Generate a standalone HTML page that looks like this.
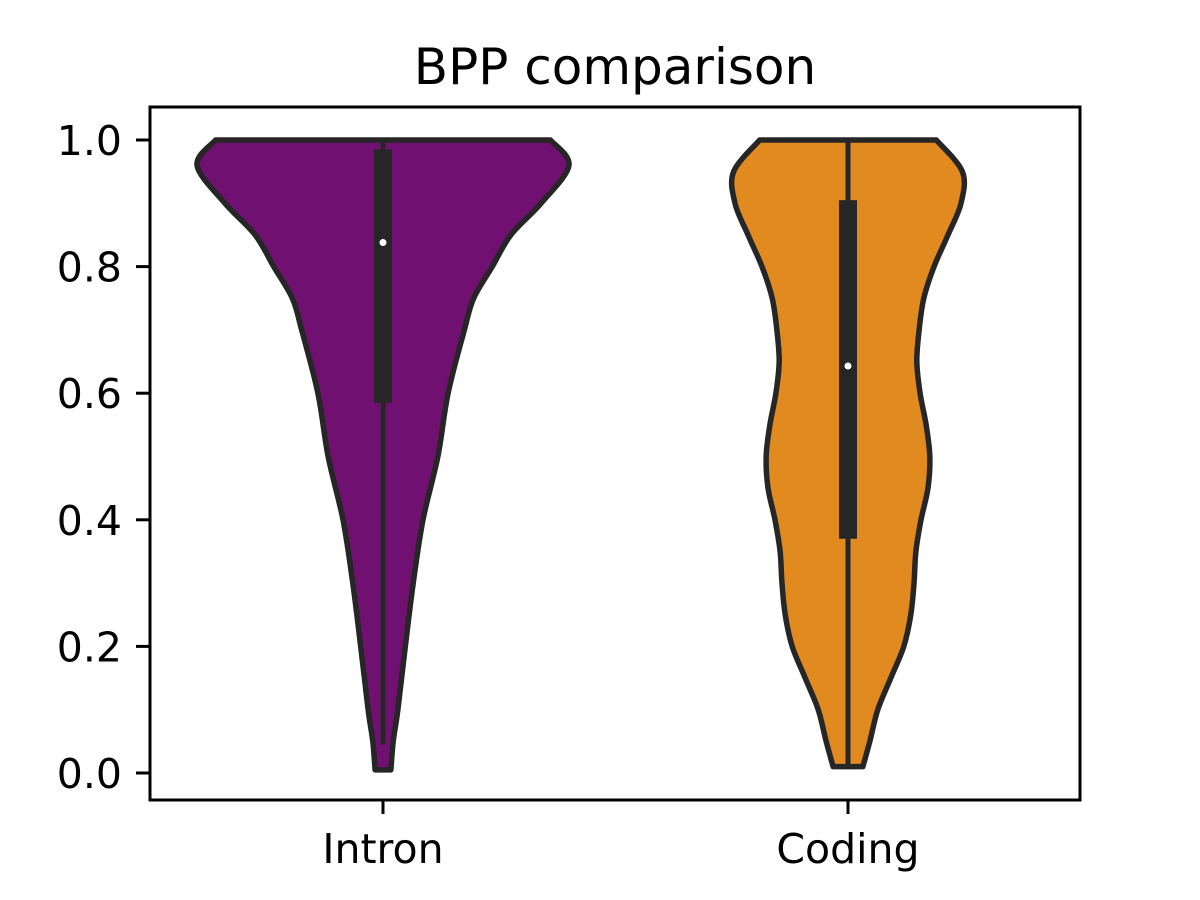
<!DOCTYPE html>
<html><head><meta charset="utf-8"><style>
body{margin:0;background:#fff;}
svg{display:block;font-family:"DejaVu Sans","Liberation Sans",sans-serif;}
</style></head><body>
<svg id="chart" width="1200" height="900" viewBox="0 0 1200 900">
<text x="615" y="84" font-size="50" text-anchor="middle" fill="#000">BPP comparison</text>
<g id="plot"></g>
<rect x="150" y="107" width="930" height="693" fill="none" stroke="#000" stroke-width="3"/>
</svg>
<script>
const categories = ["Intron", "Coding"];
const colors = ["#701070", "#e08a20"];
const densityY = [[1.0,0.96,0.9,0.85,0.8,0.75,0.7,0.6,0.5,0.4,0.3,0.2,0.1,0.05,0.005],
                  [1.0,0.95,0.9,0.85,0.8,0.75,0.7,0.65,0.6,0.55,0.5,0.45,0.4,0.35,0.3,0.25,0.2,0.15,0.1,0.05,0.01]];
const densityW = [[0.36,0.40,0.34,0.275,0.235,0.195,0.175,0.14,0.118,0.086,0.065,0.048,0.032,0.022,0.017],
                  [0.19,0.246,0.243,0.215,0.185,0.163,0.153,0.148,0.155,0.168,0.176,0.172,0.157,0.146,0.142,0.135,0.12,0.092,0.064,0.047,0.032]];
const q1 = [0.585, 0.37];
const q3 = [0.985, 0.905];
const medians = [0.838, 0.643];
const whiskLo = [0.045, 0.01];
const whiskHi = [1.0, 1.0];
const yTicks = [0.0,0.2,0.4,0.6,0.8,1.0];

const Y = v => 773 - v*633;
const X = i => 383 + i*465;
const W = w => w*465;
const ns = "http://www.w3.org/2000/svg";
const g = document.getElementById('plot');
function mk(t, a){const e=document.createElementNS(ns,t);for(const k in a)e.setAttribute(k,a[k]);g.appendChild(e);return e;}

yTicks.forEach(t=>{
  const l=mk('line',{x1:136,x2:150,y1:Y(t),y2:Y(t),stroke:'#000','stroke-width':3});
  
  
  const tx=mk('text',{x:122,y:Y(t)+15,'font-size':41,'text-anchor':'end',fill:'#000'});
  tx.textContent=t.toFixed(1);
  
  
});

categories.forEach((c,i)=>{
  const cx=X(i), ys=densityY[i], ws=densityW[i];
  const right=ys.map((y,k)=>[cx+W(ws[k]),Y(y)]);
  const left=ys.map((y,k)=>[cx-W(ws[k]),Y(y)]).reverse();
  function cr(p){let d='M'+p[0][0]+','+p[0][1];
    for(let k=0;k<p.length-1;k++){const p0=p[k-1]||p[k],p1=p[k],p2=p[k+1],p3=p[k+2]||p2;
      d+=` C${p1[0]+(p2[0]-p0[0])/6},${p1[1]+(p2[1]-p0[1])/6} ${p2[0]-(p3[0]-p1[0])/6},${p2[1]-(p3[1]-p1[1])/6} ${p2[0]},${p2[1]}`;}
    return d;}
  const d=cr(right)+' L'+left[0][0]+','+left[0][1]+cr(left).replace(/^M[^ ]+/,'')+' Z';
  const v=mk('path',{d:d,fill:colors[i],stroke:'#262626','stroke-width':5.5,'stroke-linejoin':'round'});
  
  
  const wl=mk('line',{x1:cx,x2:cx,y1:Y(whiskLo[i]),y2:Y(whiskHi[i]),stroke:'#262626','stroke-width':5});
  
  
  const b=mk('rect',{x:cx-9,y:Y(q3[i]),width:18,height:Y(q1[i])-Y(q3[i]),fill:'#262626'});
  
  
  const m=mk('circle',{cx:cx,cy:Y(medians[i]),r:3.5,fill:'#fff'});
  
  
  const tk=mk('line',{x1:cx,x2:cx,y1:800,y2:814,stroke:'#000','stroke-width':3});
  
  
  const tl=mk('text',{x:cx,y:863,'font-size':41,'text-anchor':'middle',fill:'#000'});
  tl.textContent=c;
  
  
});
</script>
</body></html>
